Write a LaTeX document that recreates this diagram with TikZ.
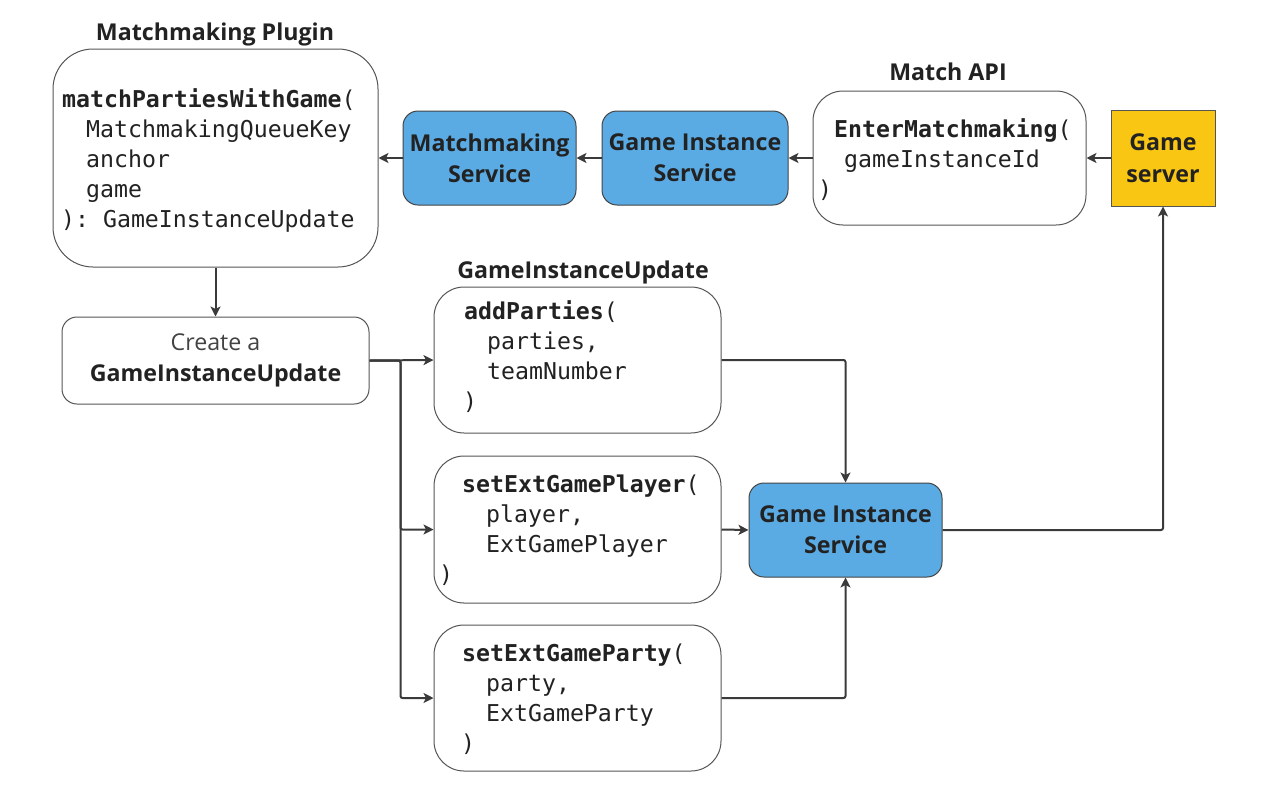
\documentclass[tikz,border=0pt]{standalone}
\usepackage{fontspec}
\setmainfont{Open Sans}
\setmonofont{DejaVu Sans Mono}
\usetikzlibrary{arrows.meta}
\definecolor{txt}{HTML}{222222}
\definecolor{boxline}{HTML}{555555}
\definecolor{conncol}{HTML}{3A3A3A}
\definecolor{svcblue}{HTML}{5AAAE3}
\definecolor{gsyellow}{HTML}{F9C613}
\tikzset{
  codebox/.style={draw=boxline, line width=1pt, fill=white, rounded corners=30pt, inner sep=0pt},
  svcbox/.style={draw=boxline!80!black, line width=1pt, fill=svcblue, rounded corners=15pt, inner sep=0pt,
     align=center, text=txt, font=\fontsize{23.2}{31}\selectfont\bfseries},
  codeln/.style={anchor=base west, inner sep=0pt, text=txt, font=\fontsize{23.2}{30}\selectfont\ttfamily},
  title/.style={anchor=base, inner sep=0pt, text=txt, font=\fontsize{23.2}{25}\selectfont\bfseries},
  conn/.style={draw=conncol, line width=2pt, rounded corners=2pt, -{Stealth[length=10pt,width=10pt,inset=2.5pt]}}
}
\begin{document}
\begin{tikzpicture}[x=1pt,y=-1pt]
\useasboundingbox (0,0) rectangle (1268,788);
% titles
\node[title] (t1) at (215,40) {Matchmaking Plugin};
\node[title] (t2) at (948,80) {Match API};
\node[title] (t3) at (583,278) {GameInstanceUpdate};
% boxes
\node[codebox, rounded corners=40pt, minimum width=325pt, minimum height=218pt] (plugin) at (215.5,158) {};
\node[svcbox, minimum width=173pt, minimum height=94pt] (ms) at (489.5,158) {Matchmaking\\Service};
\node[svcbox, minimum width=186pt, minimum height=94pt] (gis1) at (695,158) {Game Instance\\Service};
\node[codebox, minimum width=273pt, minimum height=134pt] (api) at (949.5,158) {};
\node[draw=boxline, line width=1pt, fill=gsyellow, minimum width=104pt, minimum height=96pt, inner sep=0pt,
  align=center, text=txt, font=\fontsize{23.2}{32}\selectfont\bfseries] (gs) at (1163,158) {Game\\server};
\node[draw=boxline, line width=1pt, fill=white, rounded corners=15pt, minimum width=307pt, minimum height=87pt,
  inner sep=0pt, align=center, text=txt, font=\fontsize{23.2}{31}\selectfont] (create) at (215.5,360.5)
  {{\color{txt!85}Create a}\\\textbf{GameInstanceUpdate}};
\node[codebox, minimum width=287pt, minimum height=146pt] (addp) at (577.5,360) {};
\node[codebox, minimum width=287pt, minimum height=147pt] (setp) at (577.5,529.5) {};
\node[codebox, minimum width=287pt, minimum height=146pt] (setparty) at (577.5,698) {};
\node[svcbox, minimum width=193pt, minimum height=94pt] (gis2) at (845.5,530) {Game Instance\\Service};
% code text
\node[codeln] (p1) at (62,107) {\textbf{matchPartiesWithGame}(};
\node[codeln] (p2) at (86,137) {MatchmakingQueueKey};
\node[codeln] (p3) at (86,167) {anchor};
\node[codeln] (p4) at (86,197) {game};
\node[codeln] (p5) at (61,227) {): GameInstanceUpdate};
\node[codeln] (a1) at (834,137) {\textbf{EnterMatchmaking}(};
\node[codeln] (a2) at (844,167) {gameInstanceId};
\node[codeln] (a3) at (818,197) {)};
\node[codeln] (ad1) at (464,319) {\textbf{addParties}(};
\node[codeln] (ad2) at (487,349) {parties,};
\node[codeln] (ad3) at (487,379) {teamNumber};
\node[codeln] (ad4) at (463,409) {)};
\node[codeln] (sp1) at (462,492) {\textbf{setExtGamePlayer}(};
\node[codeln] (sp2) at (486,522) {player,};
\node[codeln] (sp3) at (486,552) {ExtGamePlayer};
\node[codeln] (sp4) at (439,582) {)};
\node[codeln] (sy1) at (462,661) {\textbf{setExtGameParty}(};
\node[codeln] (sy2) at (486,691) {party,};
\node[codeln] (sy3) at (486,721) {ExtGameParty};
\node[codeln] (sy4) at (461,751) {)};
% connectors
\draw[conn] (gs.west) -- (api.east);
\draw[conn] (api.west) -- (gis1.east);
\draw[conn] (gis1.west) -- (ms.east);
\draw[conn] (ms.west) -- (plugin.east);
\draw[conn] (plugin.south) -- (create.north);
\draw[conn] (create.east) -- (addp.west);
\draw[conn] (create.east) -- ++(31,0) |- (setp.west);
\draw[conn] (create.east) -- ++(31,0) |- (setparty.west);
\draw[conn] (addp.east) -| (gis2.north);
\draw[conn] (setp.east) -- (gis2.west);
\draw[conn] (setparty.east) -| (gis2.south);
\draw[conn] (gis2.east) -| (gs.south);
\end{tikzpicture}
\end{document}
